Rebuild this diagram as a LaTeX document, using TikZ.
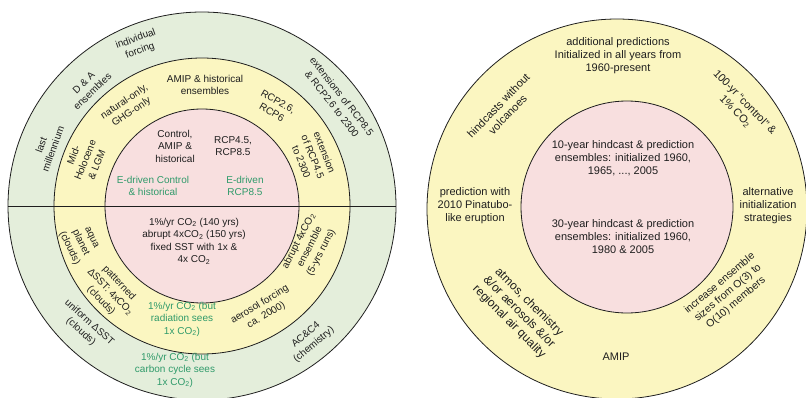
\documentclass[tikz,border=0pt]{standalone}
\usepackage{fontspec}
\setsansfont{Liberation Sans}
\usepackage{xcolor}
\usetikzlibrary{positioning}
\definecolor{ink}{HTML}{1e1e1e}
\definecolor{edrive}{HTML}{2f9a6a}
\definecolor{paleg}{HTML}{e4eedb}
\definecolor{paley}{HTML}{fbf6c1}
\definecolor{palep}{HTML}{f8dfdf}

\begin{document}
\begin{tikzpicture}[x=1pt, y=-1pt, font=\sffamily\fontsize{10}{12.5}\selectfont,
  ring/.style={circle, draw=ink, line width=0.8pt, inner sep=0pt},
  lbl/.style={align=center, text=ink, inner sep=0pt},
  glbl/.style={lbl, text=edrive},
  big/.style={font=\sffamily\fontsize{11}{13}\selectfont}]
  \useasboundingbox (0,0) rectangle (806,397);
  \clip (0,0) rectangle (806,397);

  % left: CMIP long-term experiments
  \node[ring, fill=paleg, minimum size=388pt] (outerL) at (202,206) {};
  \node[ring, fill=paley, minimum size=296pt] (midL) at (202,206) {};
  \node[ring, fill=palep, minimum size=194pt] (coreL) at (202,206) {};
  \draw[ink, line width=0.9pt] (outerL.west) -- (outerL.east);

  \node[lbl] (ctrl) at (175,146) {Control,\\AMIP \&\\historical};
  \node[lbl] (rcpcore) at (233,146) {RCP4.5,\\RCP8.5};
  \node[glbl] (ectrl) at (153,186) {E-driven Control\\\& historical};
  \node[glbl] (ercp) at (245,186) {E-driven\\RCP8.5};
  \node[lbl] (co2core) at (194,241) {1\%/yr CO\textsubscript{2} (140 yrs)\\abrupt 4xCO\textsubscript{2} (150 yrs)\\fixed SST with 1x \&\\4x CO\textsubscript{2}};

  \node[lbl] (amipens) at (205,85) {AMIP \& historical\\ensembles};
  \node[lbl, rotate=-30] (rcp26) at (275,107) {RCP2.6,\\RCP6};
  \node[lbl, rotate=-68] (ext45) at (313,157) {extension\\of RCP4.5\\to 2300};
  \node[lbl, rotate=34] (natonly) at (128,107) {natural-only,\\GHG-only};
  \node[lbl, rotate=68] (midholo) at (85,160) {Mid-\\Holocene\\\& LGM};
  \node[lbl, rotate=-64] (aqua) at (80,243) {aqua\\planet\\(clouds)};
  \node[lbl, rotate=-46] (pattern) at (110,292) {patterned\\ΔSST: 4xCO\textsubscript{2}\\(clouds)};
  \node[glbl] (radsees) at (182,319) {1\%/yr CO\textsubscript{2} (but\\radiation sees\\1x CO\textsubscript{2})};
  \node[lbl, rotate=31] (aerosol) at (263,310) {aerosol forcing\\ca. 2000)};
  \node[lbl, rotate=63] (abrupt) at (310,247) {abrupt 4xCO\textsubscript{2}\\ensemble\\(5-yrs runs)};

  \node[lbl, rotate=20] (indiv) at (138,45) {individual\\forcing};
  \node[lbl, rotate=44] (dna) at (88,87) {D \& A\\ensembles};
  \node[lbl, rotate=70] (lastmil) at (47,147) {last\\millennium};
  \node[lbl, rotate=-52] (ext85) at (337,100) {extensions of RCP8.5\\\& RCP2.6 to 2300};
  \node[lbl, rotate=-42] (uniform) at (85,327) {uniform ΔSST\\(clouds)};
  \node[glbl] (carbsees) at (175,370) {1\%/yr CO\textsubscript{2} (but\\carbon cycle sees\\1x CO\textsubscript{2})};
  \node[lbl, rotate=40] (acc4) at (310,340) {AC\&C4\\(chemistry)};

  % right: decadal prediction experiments
  \node[ring, fill=paley, minimum size=380pt] (outerR) at (617,209) {};
  \node[ring, fill=palep, minimum size=212pt] (coreR) at (627,207) {};

  \node[lbl, big] (tenyr) at (623,158) {10-year hindcast \& prediction\\ensembles: initialized 1960,\\1965, ..., 2005};
  \node[lbl, big] (thirtyyr) at (623,237) {30-year hindcast \& prediction\\ensembles: initialized 1960,\\1980 \& 2005};

  \node[lbl, big] (addpred) at (618,56) {additional predictions\\Initialized in all years from\\1960-present};
  \node[lbl, big, rotate=46] (novolc) at (503,110) {hindcasts without\\volcanoes};
  \node[lbl, big, rotate=-46] (hundred) at (740,107) {100-yr ``control'' \&\\1\% CO\textsubscript{2}};
  \node[lbl, big] (pinatubo) at (475,206) {prediction with\\2010 Pinatubo-\\like eruption};
  \node[lbl, big] (altinit) at (768,206) {alternative\\initialization\\strategies};
  \node[lbl, rotate=-45, font=\sffamily\fontsize{12}{14}\selectfont] (atmos) at (519,312) {atmos, chemistry\\\&/or aerosols \&/or\\regional air quality};
  \node[lbl, rotate=40, font=\sffamily\fontsize{10.5}{12.5}\selectfont] (ensize) at (728,293) {increase ensemble\\sizes from O(3) to\\O(10) members};
  \node[lbl, big] (amipR) at (616,357) {AMIP};
\end{tikzpicture}
\end{document}
